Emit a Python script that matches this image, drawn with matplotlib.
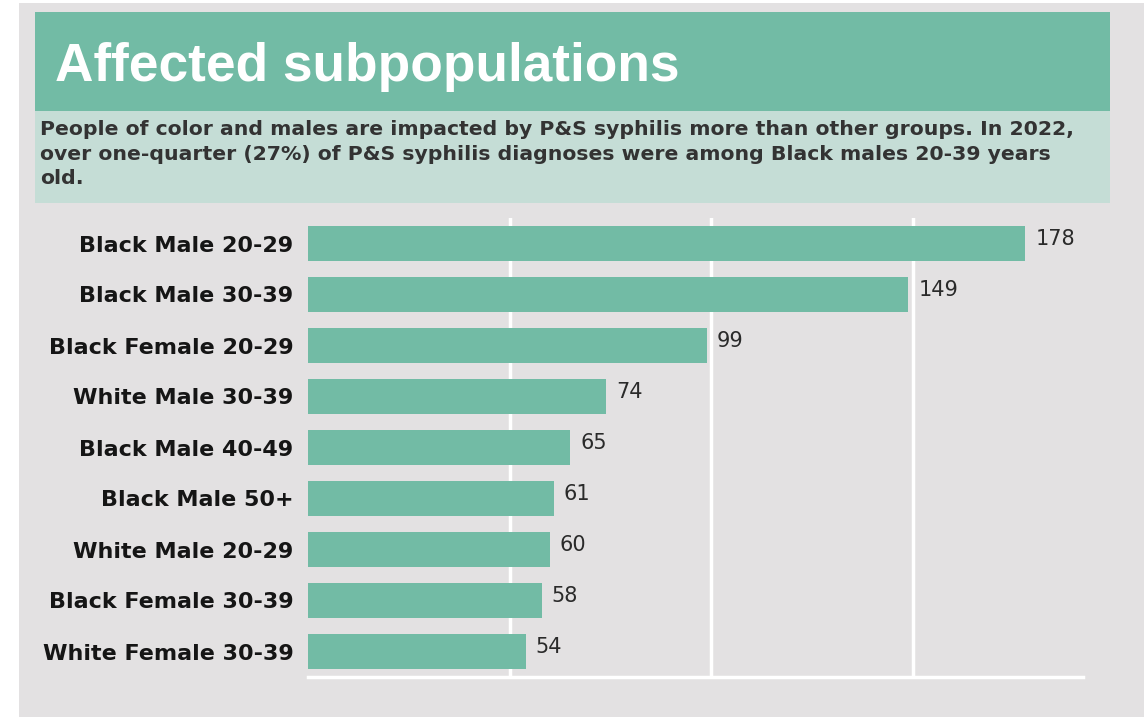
import matplotlib.pyplot as plt
from matplotlib.patches import Rectangle

categories = ["Black Male 20-29", "Black Male 30-39", "Black Female 20-29",
              "White Male 30-39", "Black Male 40-49", "Black Male 50+",
              "White Male 20-29", "Black Female 30-39", "White Female 30-39"]
values = [178, 149, 99, 74, 65, 61, 60, 58, 54]
grid_ticks = [50, 100, 150]

title = "Affected subpopulations"
subtitle = ("People of color and males are impacted by P&S syphilis more than other groups. In 2022,\n"
            "over one-quarter (27%) of P&S syphilis diagnoses were among Black males 20-39 years\n"
            "old.")

W, H = 1144, 717
panel_gray = "#e3e1e2"
teal = "#72bba5"
band_light = "#c5ddd6"

plt.rcParams['font.family'] = ['Liberation Sans', 'DejaVu Sans']
wide = ['DejaVu Sans']

fig = plt.figure(figsize=(W / 100, H / 100), dpi=100)
fig.patch.set_facecolor("white")

def px_rect(x0, y0, x1, y1, color):
    fig.patches.append(Rectangle((x0 / W, 1 - y1 / H), (x1 - x0) / W, (y1 - y0) / H,
                                 transform=fig.transFigure, facecolor=color,
                                 edgecolor="none", zorder=-10))

# background panel and header bands
px_rect(19, 3, W, H, panel_gray)
px_rect(35, 12, 1110, 111, teal)
px_rect(35, 111, 1110, 203, band_light)

fig.text(55 / W, 1 - 67 / H, title, color="white", fontsize=38.3, fontweight="bold",
         family=['Liberation Sans'], va="center", ha="left")
fig.text(40 / W, 1 - 120 / H, subtitle, color="#333333", fontsize=14.7, fontweight="bold",
         family=wide, va="top", ha="left", linespacing=1.38)

# bar chart
ax_left, ax_right, ax_top, ax_bottom = 308, 1083, 218, 677
ax = fig.add_axes([ax_left / W, 1 - ax_bottom / H, (ax_right - ax_left) / W,
                   (ax_bottom - ax_top) / H])
ax.set_facecolor(panel_gray)
ypos = list(range(len(categories)))
ax.barh(ypos, values, height=0.7, color=teal, zorder=2)
ax.set_xlim(0, 192.3)
ax.set_ylim(len(categories) - 0.5, -0.5)
ax.set_yticks(ypos)
ax.set_yticklabels(categories, fontsize=16, fontweight="bold", color="#151515", family=wide)
ax.set_xticks(grid_ticks)
ax.tick_params(axis="x", length=0, labelbottom=False)
ax.tick_params(axis="y", length=0, pad=10.5)
ax.grid(axis="x", color="white", linewidth=2.5, zorder=1)
for s in ["top", "right", "left"]:
    ax.spines[s].set_visible(False)
ax.spines["bottom"].set_color("white")
ax.spines["bottom"].set_linewidth(2.5)

for y, v in zip(ypos, values):
    ax.text(v + 2.5, y - 0.09, str(v), fontsize=15, color="#2a2a2a", family=wide,
            va="center", ha="left")

fig.savefig("out.png", dpi=100, facecolor=fig.get_facecolor())
